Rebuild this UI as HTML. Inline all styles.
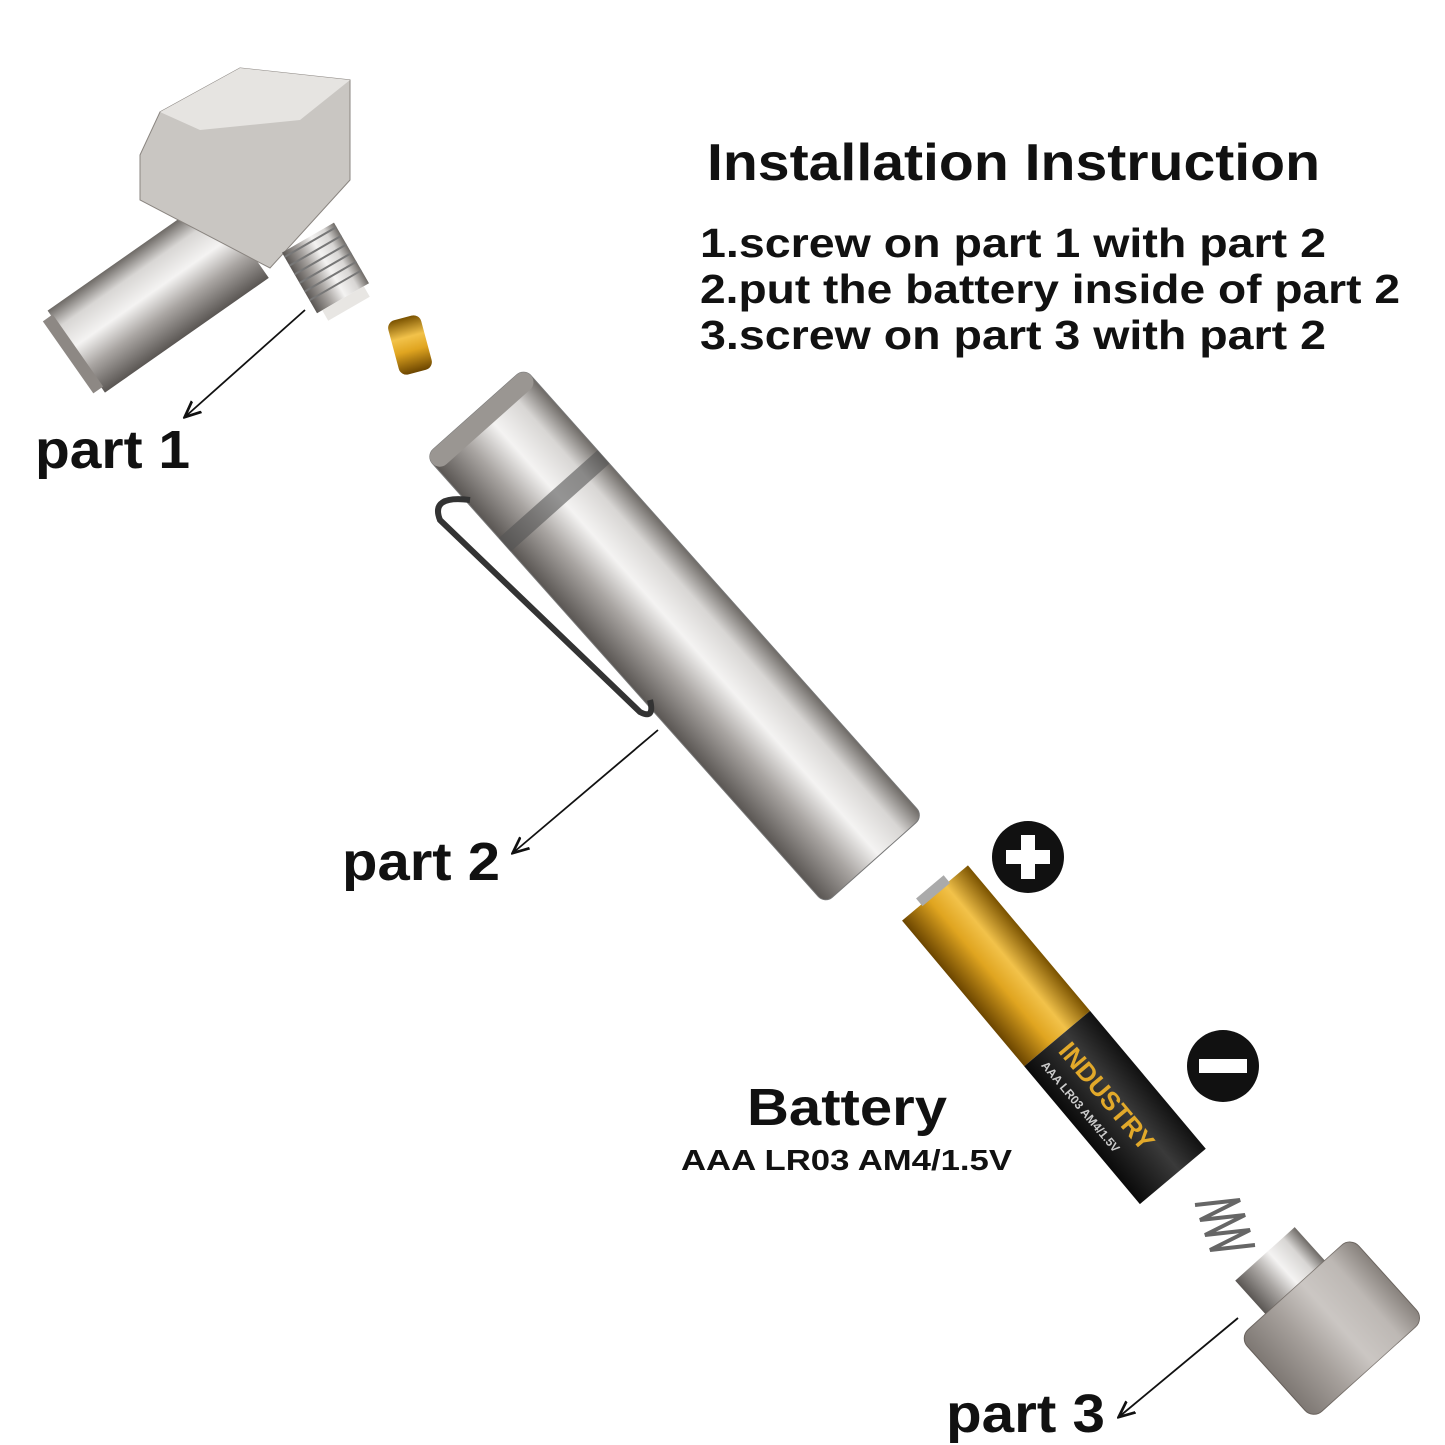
<!DOCTYPE html>
<html><head><meta charset="utf-8"><style>
html,body{margin:0;padding:0;background:#fff}
svg{display:block}
text{font-family:"Liberation Sans",Arial,sans-serif;font-weight:bold;fill:#111}
</style></head><body>
<svg width="1445" height="1445" viewBox="0 0 1445 1445" xmlns="http://www.w3.org/2000/svg">
<defs>
<linearGradient id="metal" x1="0" y1="0" x2="0" y2="1">
<stop offset="0" stop-color="#6e6a66"/><stop offset="0.2" stop-color="#d8d6d4"/><stop offset="0.45" stop-color="#f4f3f2"/><stop offset="0.7" stop-color="#a9a5a2"/><stop offset="1" stop-color="#5a5653"/></linearGradient>
<linearGradient id="gold" x1="0" y1="0" x2="0" y2="1">
<stop offset="0" stop-color="#7a5200"/><stop offset="0.35" stop-color="#f2c24a"/><stop offset="0.6" stop-color="#e0a520"/><stop offset="1" stop-color="#6b4500"/></linearGradient>
<linearGradient id="blk" x1="0" y1="0" x2="0" y2="1">
<stop offset="0" stop-color="#111"/><stop offset="0.4" stop-color="#3a3a3a"/><stop offset="1" stop-color="#0a0a0a"/></linearGradient>
<marker id="ah" markerWidth="10" markerHeight="10" refX="8" refY="5" orient="auto"><path d="M0,1 L9,5 L0,9" fill="none" stroke="#111" stroke-width="1.5"/></marker>
</defs>

<!-- text -->
<text x="707" y="180" font-size="52" textLength="613" lengthAdjust="spacingAndGlyphs">Installation Instruction</text>
<text x="700" y="257" font-size="41" textLength="626" lengthAdjust="spacingAndGlyphs">1.screw on part 1 with part 2</text>
<text x="700" y="303" font-size="41" textLength="700" lengthAdjust="spacingAndGlyphs">2.put the battery inside of part 2</text>
<text x="700" y="349" font-size="41" textLength="626" lengthAdjust="spacingAndGlyphs">3.screw on part 3 with part 2</text>
<text x="35" y="468" font-size="54" textLength="155" lengthAdjust="spacingAndGlyphs">part 1</text>
<text x="342" y="880" font-size="54" textLength="158" lengthAdjust="spacingAndGlyphs">part 2</text>
<text x="747" y="1125" font-size="52" textLength="200" lengthAdjust="spacingAndGlyphs">Battery</text>
<text x="681" y="1170" font-size="29" textLength="331" lengthAdjust="spacingAndGlyphs">AAA LR03 AM4/1.5V</text>
<text x="946" y="1432" font-size="54" textLength="159" lengthAdjust="spacingAndGlyphs">part 3</text>

<!-- arrows -->
<line x1="305" y1="310" x2="186" y2="416" stroke="#111" stroke-width="1.8" marker-end="url(#ah)"/>
<line x1="658" y1="730" x2="514" y2="852" stroke="#111" stroke-width="1.8" marker-end="url(#ah)"/>
<line x1="1238" y1="1318" x2="1120" y2="1416" stroke="#111" stroke-width="1.8" marker-end="url(#ah)"/>

<!-- part 1 -->
<g>
<g transform="translate(150,300) rotate(-35)">
<rect x="-90" y="-50" width="200" height="100" fill="url(#metal)"/>
<rect x="-100" y="-44" width="12" height="88" fill="#8d8884"/>
</g>
<polygon points="160,112 240,68 350,80 350,180 270,268 140,200 140,155" fill="#c9c6c2" stroke="#8a8580"/>
<polygon points="160,112 240,68 350,80 300,120 200,130" fill="#e6e4e1"/>
<g transform="translate(318,255) rotate(60)">
<rect x="-20" y="-30" width="70" height="60" fill="url(#metal)"/>
<g stroke="#777" stroke-width="2"><line x1="-15" y1="-30" x2="-15" y2="30"/><line x1="-5" y1="-30" x2="-5" y2="30"/><line x1="5" y1="-30" x2="5" y2="30"/><line x1="15" y1="-30" x2="15" y2="30"/><line x1="25" y1="-30" x2="25" y2="30"/><line x1="35" y1="-30" x2="35" y2="30"/></g>
<rect x="50" y="-24" width="12" height="48" fill="#e8e6e3"/>
</g>
<g transform="translate(410,345) rotate(-15)"><rect x="-17" y="-28" width="34" height="56" rx="8" fill="url(#gold)"/></g>
</g>

<!-- part 2 -->
<g transform="translate(475,412) rotate(48.3)">
<rect x="0" y="-66" width="600" height="132" rx="10" fill="url(#metal)" stroke="#777"/>
<rect x="110" y="-66" width="18" height="132" fill="#555" opacity="0.6"/>
<rect x="0" y="-66" width="20" height="132" rx="10" fill="#9a9692"/>
</g>
<path d="M470,500 Q430,495 440,520 L640,712 Q655,720 650,700" fill="none" stroke="#333" stroke-width="6"/>

<!-- battery -->
<g transform="translate(935,893) rotate(50)">
<rect x="0" y="-43" width="190" height="86" fill="url(#gold)"/>
<rect x="190" y="-43" width="180" height="86" fill="url(#blk)"/>
<rect x="-8" y="-18" width="10" height="36" fill="#aaa"/>
<text x="200" y="8" font-size="26" style="fill:#e2a92a">INDUSTRY</text>
<text x="200" y="30" font-size="12" style="fill:#ccc">AAA LR03 AM4/1.5V</text>
</g>

<!-- plus / minus -->
<circle cx="1028" cy="857" r="36" fill="#111"/>
<rect x="1006" y="850" width="44" height="14" fill="#fff"/><rect x="1021" y="835" width="14" height="44" fill="#fff"/>
<circle cx="1223" cy="1066" r="36" fill="#111"/>
<rect x="1199" y="1059" width="48" height="14" fill="#fff"/>

<!-- spring -->
<path d="M1195,1205 l45,-5 l-40,20 l45,-5 l-40,20 l45,-5 l-40,20 l45,-5" fill="none" stroke="#666" stroke-width="4"/>

<!-- part 3 -->
<g transform="translate(1275,1265) rotate(48)">
<rect x="-15" y="-40" width="45" height="80" fill="url(#metal)"/>
<rect x="30" y="-75" width="110" height="150" rx="12" fill="#a29a94" stroke="#6a625c"/>
<rect x="30" y="-75" width="110" height="150" rx="12" fill="url(#metal)" opacity="0.5"/>
</g>
</svg>
</body></html>
